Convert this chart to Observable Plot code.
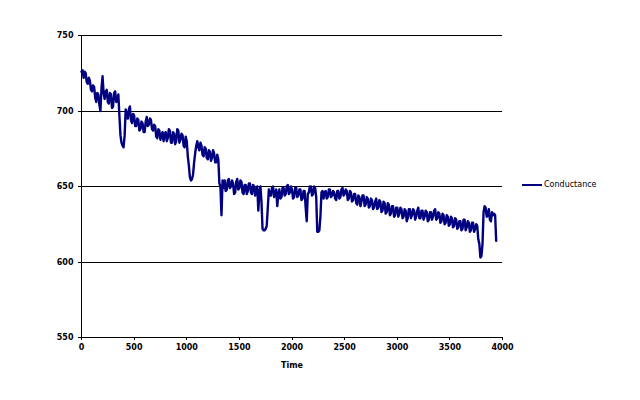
<!DOCTYPE html>
<html>
<head>
<meta charset="utf-8">
<script src="https://cdn.jsdelivr.net/npm/d3@7"></script>
<script src="https://cdn.jsdelivr.net/npm/@observablehq/plot@0.6"></script>
<style>
  body { margin: 0; background: #fff; }
  #wrap { position: relative; width: 640px; height: 400px; }
  #legend { position: absolute; left: 522px; top: 180px; font: 8px "DejaVu Sans", sans-serif; color: #000; display: flex; align-items: center; }
  #legend .sw { width: 20px; height: 2px; background: #000080; margin-right: 2px; }
</style>
</head>
<body>
<div id="wrap"><div id="legend"><span class="sw"></span><span>Conductance</span></div></div>
<script>
const seriesName = "Conductance";
const timeStep = 10;
const conductance = [
  726,727,722,726,725,719,718,722,720,714,713,717,716,709,706,712,711,704,700,715,
  723,712,708,713,714,706,705,712,711,702,703,712,713,706,707,711,697,684,679,677,
  676,684,701,697,695,701,703,694,692,698,697,690,690,695,694,687,688,693,692,686,
  686,693,696,690,691,695,694,688,687,691,690,683,682,688,687,681,684,686,680,685,
  686,680,682,688,687,679,679,686,685,678,680,688,687,679,681,685,684,677,676,683,
  680,670,664,656,654,655,658,666,672,677,680,676,674,679,677,671,670,676,675,669,
  668,674,673,667,669,674,672,666,666,671,668,652,650,631,654,649,654,647,648,654,
  655,649,650,654,652,645,646,653,655,648,649,654,653,646,645,651,651,645,647,652,
  652,646,645,651,650,644,648,650,634,646,650,640,622,621,621,622,624,636,648,644,
  644,649,650,643,645,648,637,645,648,642,643,649,649,644,645,650,651,645,646,650,
  648,642,643,649,649,643,644,648,648,641,642,647,647,636,627,645,646,650,650,644,
  645,650,649,643,620,620,621,630,646,647,642,646,647,642,643,648,648,643,644,647,
  646,642,641,647,647,642,643,648,649,644,645,648,647,641,642,647,646,640,641,645,
  645,639,638,644,643,637,640,644,644,637,638,643,642,636,637,642,641,635,636,640,
  642,635,636,641,640,633,634,640,639,632,633,639,638,631,632,637,637,630,631,636,
  636,630,632,636,635,629,630,635,634,627,629,635,635,629,631,635,634,628,630,634,
  636,629,629,634,634,628,630,634,633,627,628,633,633,628,630,634,635,628,629,633,
  632,626,627,632,631,625,626,631,630,624,625,630,629,623,624,629,628,622,623,627,
  627,621,622,628,628,621,623,627,626,620,621,626,626,620,622,625,624,615,612,603,
  604,612,633,637,636,630,631,635,628,627,633,631,632,631,614
];
const time = conductance.map((_, i) => i * timeStep);
const xTicks = [0,500,1000,1500,2000,2500,3000,3500,4000];
const yTicks = [550,600,650,700,750];
const gridValues = [600,650,700,750];

const data = time.map((t, i) => ({t, v: conductance[i]}));

const chart = Plot.plot({
  width: 640, height: 400,
  marginLeft: 81, marginRight: 138, marginTop: 35, marginBottom: 63,
  style: {fontFamily: "DejaVu Sans, sans-serif", fontSize: "8px", fontWeight: "bold", background: "#fff", color: "#000"},
  x: {domain: [0, 4000]},
  y: {domain: [550, 750]},
  marks: [
    Plot.ruleY(gridValues, {stroke: "#000", strokeWidth: 1, shapeRendering: "crispEdges"}),
    Plot.line(data, {x: "t", y: "v", stroke: "#000080", strokeWidth: 2.4}),
    Plot.ruleX([0], {stroke: "#000", shapeRendering: "crispEdges"}),
    Plot.ruleY([550], {stroke: "#000", shapeRendering: "crispEdges"}),
    Plot.axisX({ticks: xTicks, tickFormat: d3.format("d"), tickSize: 3, tickPadding: 4, label: "Time", labelAnchor: "center", labelArrow: "none", labelOffset: 30, stroke: "#000", shapeRendering: "crispEdges"}),
    Plot.axisY({ticks: yTicks, tickFormat: d3.format("d"), tickSize: 3, tickPadding: 5, label: null, stroke: "#000", shapeRendering: "crispEdges"})
  ]
});
document.getElementById("wrap").prepend(chart);
</script>
</body>
</html>
